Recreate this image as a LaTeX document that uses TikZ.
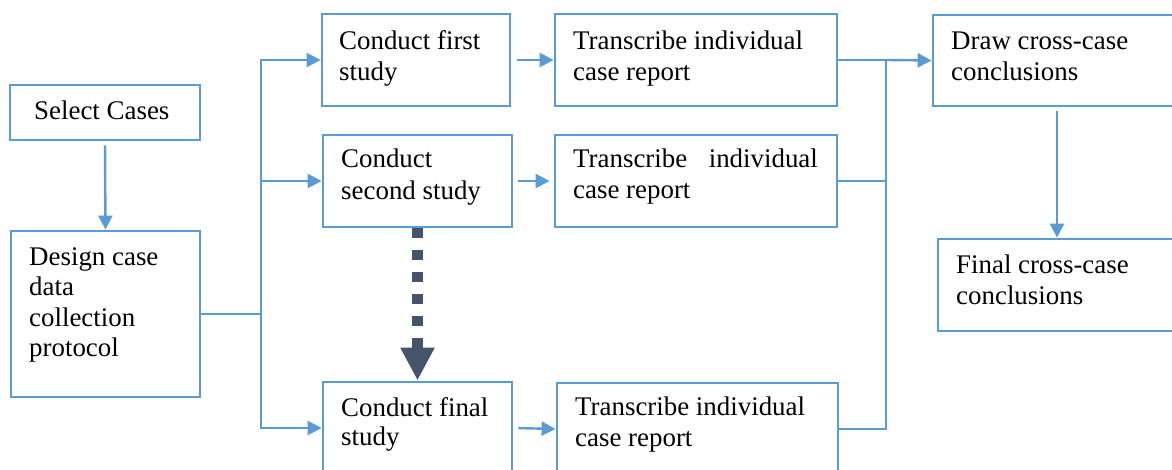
\documentclass[tikz,border=0pt]{standalone}
\usepackage{fontspec}
\setmainfont{Liberation Serif}
\usetikzlibrary{arrows.meta}
\definecolor{boxblue}{HTML}{5B9BD5}
\definecolor{slate}{HTML}{44546A}
\begin{document}
\begin{tikzpicture}[x=1pt,y=-1pt,
  box/.style={draw=boxblue, line width=2.8pt, rectangle, inner sep=0pt},
  lbl/.style={anchor=base west, inner sep=0pt, align=flush left, text width=300pt,
    font=\fontsize{26.9}{31}\selectfont},
  conn/.style={draw=boxblue, line width=2.4pt},
  arr/.style={conn, -{Triangle[length=14pt,width=14pt]}},
  feed/.style={draw=boxblue, line width=1.4pt},
  bigdots/.style={draw=slate, line width=11pt, dash pattern=on 10pt off 12pt,
    -{Triangle[length=33pt,width=32pt]}},
]
\useasboundingbox (0,0) rectangle (1172,470);
\clip (0,0) rectangle (1172,470);

% boxes
\node[box, minimum width=190pt, minimum height=55pt]  (sel) at (105,112.5) {};
\node[box, minimum width=189pt, minimum height=166pt] (des) at (105.5,314) {};
\node[box, minimum width=188pt, minimum height=92pt]  (c1)  at (416,60) {};
\node[box, minimum width=189pt, minimum height=92pt]  (c2)  at (417.5,181) {};
\node[box, minimum width=189pt, minimum height=92pt]  (c3)  at (417.5,428) {};
\node[box, minimum width=282pt, minimum height=92pt]  (t1)  at (696,60) {};
\node[box, minimum width=282pt, minimum height=92pt]  (t2)  at (696,181) {};
\node[box, minimum width=281pt, minimum height=92pt]  (t3)  at (697.5,429) {};
\node[box, minimum width=248pt, minimum height=91pt]  (dr)  at (1057,60.5) {};
\node[box, minimum width=238pt, minimum height=92pt]  (fin) at (1057,285) {};

% box texts
\node[lbl] (selt) at (34,120) {Select Cases};
\node[lbl, font=\fontsize{26.9}{30.4}\selectfont] (dest) at (29,265.5)
  {Design case\\data\\collection\\protocol};
\node[lbl] (c1t) at (339,49.3) {Conduct first\\study};
\node[lbl] (c2t) at (341,168) {Conduct\\[1pt]second study};
\node[lbl] (c3t) at (341,416) {Conduct final\\[-2pt]study};
\node[lbl] (t1t) at (573,49.3) {Transcribe individual\\case report};
\node[lbl] (t2t) at (573,168) {Transcribe\hspace{21.5pt}individual\\case report};
\node[lbl] (t3t) at (575,415) {Transcribe individual\\case report};
\node[lbl] (drt) at (951,49.3) {Draw cross-case\\conclusions};
\node[lbl] (fint) at (956,273.3) {Final cross-case\\conclusions};

% connectors
\draw[arr, shorten <=4pt] (sel.south) -- (des.north);
\coordinate (split) at (261,314);
\draw[conn] (des.east) -- (split);
\draw[arr] (split) |- (c1.west);
\draw[arr] (split) |- (c2.west);
\draw[arr] (split) |- (c3.west);
\draw[arr, shorten <=6pt] (c1.east) -- (t1.west);
\draw[arr, shorten <=5pt, shorten >=4pt] (c2.east) -- (t2.west);
\draw[arr, shorten <=5pt] (c3.east) -- (t3.west);
\coordinate (merge) at (886,60);
\draw[feed] (t1.east) -- (merge);
\draw[arr] (merge) -- (dr.west);
\draw[feed] (t2.east) -- (t2.east -| merge);
\draw[conn] (t3.east) -| (merge);
\draw[arr, shorten <=4pt] (dr.south) -- (fin.north);
\draw[bigdots] (c2.south) -- (c3.north);
\end{tikzpicture}
\end{document}
